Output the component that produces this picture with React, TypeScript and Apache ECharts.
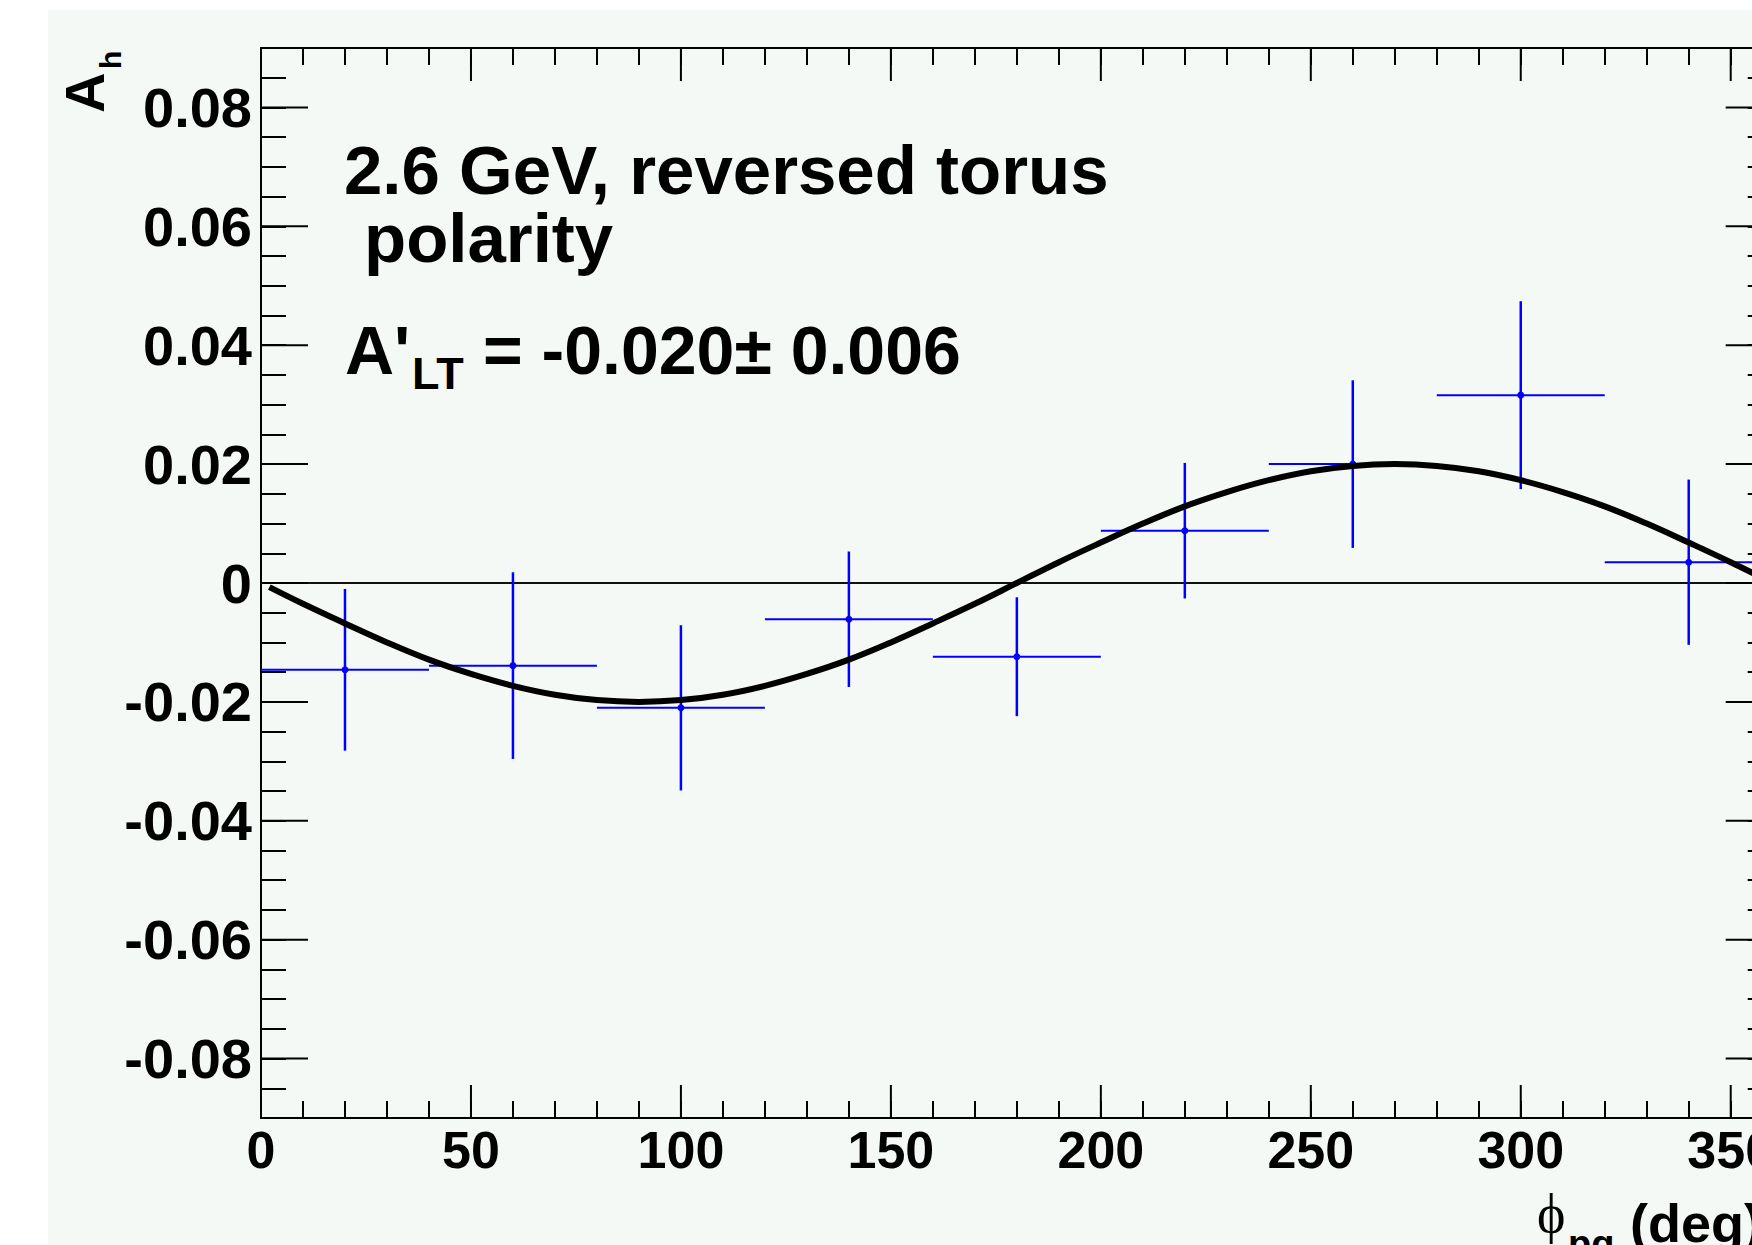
import React, { useEffect, useRef } from 'react';
import * as echarts from 'echarts';

// ---- data ----
const binCenters = [20, 60, 100, 140, 180, 220, 260, 300, 340];
const binHalfWidths = [20, 20, 20, 20, 20, 20, 20, 20, 20];
const asymValues = [-0.0146, -0.0139, -0.0210, -0.0061, -0.0124, 0.0088, 0.0200, 0.0316, 0.0035];
const asymErrors = [0.0136, 0.0157, 0.0139, 0.0114, 0.0100, 0.0114, 0.0141, 0.0158, 0.0139];

const fitPhi = [2, 10, 20, 30, 40, 50, 60, 70, 80, 90, 100, 110, 120, 130, 140, 150, 160, 170, 180,
  190, 200, 210, 220, 230, 240, 250, 260, 270, 280, 290, 300, 310, 320, 330, 340, 350, 360];
const fitValues = [-0.0007, -0.0035, -0.0068, -0.0100, -0.0129, -0.0153, -0.0173, -0.0188, -0.0197, -0.0200,
  -0.0197, -0.0188, -0.0173, -0.0153, -0.0129, -0.0100, -0.0068, -0.0035, 0.0000,
  0.0035, 0.0068, 0.0100, 0.0129, 0.0153, 0.0173, 0.0188, 0.0197, 0.0200, 0.0197, 0.0188,
  0.0173, 0.0153, 0.0129, 0.0100, 0.0068, 0.0035, 0.0000];

const zeroLine = [[0, 0], [360, 0]];

const xMajorTicks = [0, 50, 100, 150, 200, 250, 300, 350];
const yMajorTicks = [-0.08, -0.06, -0.04, -0.02, 0, 0.02, 0.04, 0.06, 0.08];

const X_MIN = 0, X_MAX = 360, X_MINOR = 10, X_MAJOR = 50;
const Y_MIN = -0.09, Y_MAX = 0.09, Y_MINOR = 0.005, Y_MAJOR = 0.02;

const SANS = '"Liberation Sans", Arial, Helvetica, sans-serif';
const SERIF = '"Liberation Serif", "DejaVu Serif", "Times New Roman", serif';

const CHART_W = 1800;
const CHART_H = 1245;

function isMultiple(v: number, step: number) {
  const k = Math.round(v / step);
  return Math.abs(v - k * step) < 1e-7;
}

export default function App() {
  const ref = useRef<HTMLDivElement>(null);

  useEffect(() => {
    if (!ref.current) return;
    const chart = echarts.init(ref.current, undefined, { renderer: 'svg' });

    const axisLine = { show: true, onZero: false, lineStyle: { color: '#000', width: 2 } };

    const xBase = (pos: 'bottom' | 'top', labels: boolean) => ({
      type: 'value',
      position: pos,
      min: X_MIN,
      max: X_MAX,
      interval: X_MINOR,
      axisLine,
      splitLine: { show: false },
      axisTick: { show: true, inside: true, length: 17, lineStyle: { color: '#000', width: 2 } },
      axisLabel: labels
        ? {
            show: true,
            margin: 6,
            fontSize: 52,
            fontWeight: 'bold',
            fontFamily: SANS,
            color: '#000',
            formatter: (v: number) => (isMultiple(v, X_MAJOR) && v < X_MAX ? String(Math.round(v)) : ''),
          }
        : { show: false },
    });

    const yBase = (pos: 'left' | 'right', labels: boolean) => ({
      type: 'value',
      position: pos,
      min: Y_MIN,
      max: Y_MAX,
      interval: Y_MINOR,
      axisLine,
      splitLine: { show: false },
      axisTick: { show: true, inside: true, length: 25, lineStyle: { color: '#000', width: 2 } },
      axisLabel: labels
        ? {
            show: true,
            margin: 9,
            fontSize: 56,
            fontWeight: 'bold',
            fontFamily: SANS,
            color: '#000',
            formatter: (v: number) => {
              if (!isMultiple(v, Y_MAJOR)) return '';
              const k = Math.round(v / Y_MAJOR);
              if (k === 0) return '0';
              return (k * Y_MAJOR).toFixed(2);
            },
          }
        : { show: false },
    });

    const textEl = (
      text: string, x: number, y: number, size: number, opts: any = {}
    ) => ({
      type: 'text',
      x,
      y,
      rotation: opts.rotation || 0,
      z: 100,
      style: {
        text,
        fill: '#000',
        fontSize: size,
        fontWeight: opts.weight || 'bold',
        fontFamily: opts.family || SANS,
        lineHeight: Math.round(size * 0.85),
        align: 'left',
        verticalAlign: 'middle',
      },
    });

    const option: any = {
      animation: false,
      backgroundColor: 'transparent',
      grid: { left: 261, top: 48, right: CHART_W - 1772.7, bottom: CHART_H - 1118, containLabel: false },
      xAxis: [xBase('bottom', true), xBase('top', false)],
      yAxis: [yBase('left', true), yBase('right', false)],
      series: [
        {
          type: 'line',
          name: 'zero',
          data: zeroLine,
          showSymbol: false,
          symbol: 'none',
          lineStyle: { color: '#111', width: 2 },
          z: 1,
          silent: true,
        },
        {
          type: 'custom',
          name: 'data',
          z: 3,
          data: binCenters.map((x, i) => [x, asymValues[i], binHalfWidths[i], asymErrors[i]]),
          encode: { x: 0, y: 1 },
          renderItem: (params: any, api: any) => {
            const x = api.value(0), y = api.value(1), ex = api.value(2), ey = api.value(3);
            const c = api.coord([x, y]);
            const l = api.coord([x - ex, y]);
            const r = api.coord([x + ex, y]);
            const t = api.coord([x, y + ey]);
            const b = api.coord([x, y - ey]);
            const stroke = '#0000ff';
            return {
              type: 'group',
              children: [
                { type: 'line', shape: { x1: l[0], y1: l[1], x2: r[0], y2: r[1] }, style: { stroke, lineWidth: 2 } },
                { type: 'line', shape: { x1: t[0], y1: t[1], x2: b[0], y2: b[1] }, style: { stroke, lineWidth: 2.5 } },
                { type: 'circle', shape: { cx: c[0], cy: c[1], r: 3.5 }, style: { fill: stroke } },
              ],
            };
          },
        },
        {
          type: 'line',
          name: 'fit',
          data: fitPhi.map((x, i) => [x, fitValues[i]]),
          showSymbol: false,
          symbol: 'none',
          smooth: 0.4,
          lineStyle: { color: '#000', width: 6 },
          z: 5,
          silent: true,
        },
        {
          type: 'custom',
          name: 'xMajor',
          z: 6,
          silent: true,
          data: xMajorTicks.map((v) => [v, 0]),
          encode: { x: 0, y: 1 },
          renderItem: (params: any, api: any) => {
            const v = api.value(0);
            const b = api.coord([v, Y_MIN]);
            const t = api.coord([v, Y_MAX]);
            const st = { stroke: '#000', lineWidth: 2 };
            return {
              type: 'group',
              children: [
                { type: 'line', shape: { x1: b[0], y1: b[1], x2: b[0], y2: b[1] - 33 }, style: st },
                { type: 'line', shape: { x1: t[0], y1: t[1], x2: t[0], y2: t[1] + 33 }, style: st },
              ],
            };
          },
        },
        {
          type: 'custom',
          name: 'yMajor',
          z: 6,
          silent: true,
          data: yMajorTicks.map((v) => [X_MIN, v]),
          encode: { x: 0, y: 1 },
          renderItem: (params: any, api: any) => {
            const v = api.value(1);
            const l = api.coord([X_MIN, v]);
            const r = api.coord([X_MAX, v]);
            const st = { stroke: '#000', lineWidth: 2 };
            return {
              type: 'group',
              children: [
                { type: 'line', shape: { x1: l[0], y1: l[1], x2: l[0] + 47, y2: l[1] }, style: st },
                { type: 'line', shape: { x1: r[0], y1: r[1], x2: r[0] - 47, y2: r[1] }, style: st },
              ],
            };
          },
        },
      ],
      graphic: [
        textEl('2.6 GeV, reversed torus', 344, 170, 69),
        textEl('polarity', 364, 238, 69),
        textEl("A'", 345, 350, 68),
        textEl('LT', 412, 373, 45),
        textEl('= -0.020± 0.006', 483, 350, 68),
        textEl('A', 84, 113, 56, { rotation: Math.PI / 2 }),
        textEl('h', 110, 69, 30, { rotation: Math.PI / 2 }),
        textEl('ϕ', 1537, 1214, 54, { weight: 'normal', family: SERIF }),
        textEl('pq', 1568, 1244, 38),
        textEl('(deg)', 1630, 1223, 54),
      ],
    };

    chart.setOption(option);
    return () => chart.dispose();
  }, []);

  return (
    <div style={{ position: 'fixed', left: 0, top: 0, width: 1752, height: 1245, overflow: 'hidden', background: '#ffffff' }}>
      <div style={{ position: 'absolute', left: 48, top: 10, right: 0, bottom: 0, background: '#f5f9f6' }} />
      <div ref={ref} style={{ position: 'absolute', left: 0, top: 0, width: CHART_W, height: CHART_H }} />
    </div>
  );
}
